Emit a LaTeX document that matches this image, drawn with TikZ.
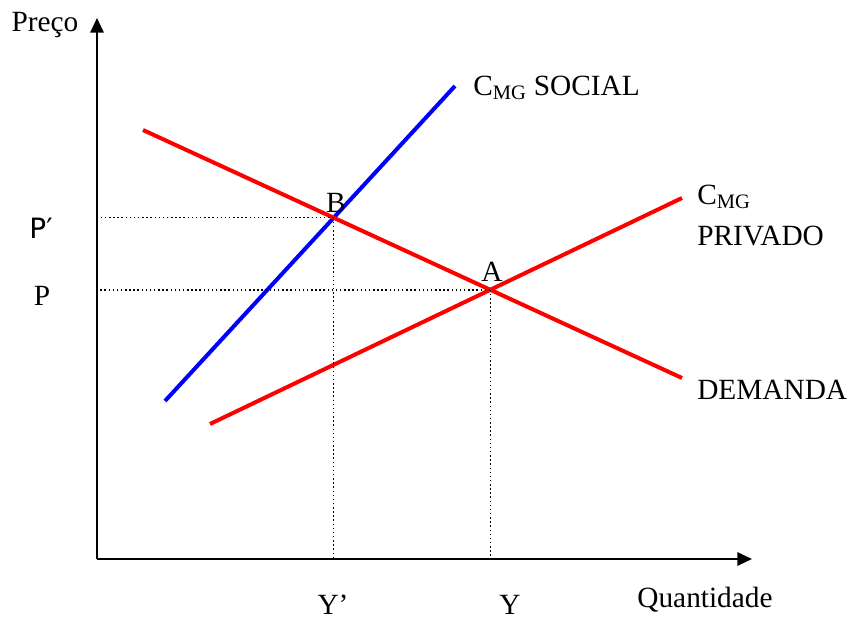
\documentclass[tikz,border=0pt]{standalone}
\usepackage{fontspec}
\setmainfont{Liberation Serif}
\newfontfamily\primefont{DejaVu Sans}
\usetikzlibrary{arrows.meta,intersections}

\begin{document}
\begin{tikzpicture}[x=0.75pt,y=-0.75pt]
        % Estilos
        \tikzset{eixo/.style={line width=1.5pt, -{Triangle[length=11pt,width=10pt]}},
                 curva/.style={line width=3pt},
                 guia/.style={line width=1.1pt, dotted},
                 rotulo/.style={font=\fontsize{22}{26}\selectfont, inner sep=0pt}}
        \useasboundingbox (0,0) rectangle (851,621);

        % --- EIXOS ---
        \coordinate (O) at (97,559);
        \coordinate (ytop) at (97,18);
        \coordinate (xend) at (752,559);
        \draw[eixo] (O) -- (ytop);
        \draw[eixo] (O) -- (xend);
        \node[rotulo] (preco) at (45,25) {Preço};
        \node[rotulo] (quant) at (705,600) {Quantidade};

        % --- CURVAS ---
        \coordinate (s1) at (165,401); \coordinate (s2) at (455,86);
        \coordinate (d1) at (143,130); \coordinate (d2) at (682,378);
        \coordinate (p1) at (210,424); \coordinate (p2) at (682,198);
        \draw[curva, blue, name path=social] (s1) -- (s2);
        \draw[curva, red, name path=demanda] (d1) -- (d2);
        \draw[curva, red, name path=privado] (p1) -- (p2);
        \path[name intersections={of=social and demanda, by=B}];
        \path[name intersections={of=privado and demanda, by=A}];

        % --- LINHAS GUIA ---
        \draw[guia] (B) -- (B -| O);
        \draw[guia] (B) -- (B |- O);
        \draw[guia] (A) -- (A -| O);
        \draw[guia] (A) -- (A |- O);

        % --- ROTULOS ---
        \node[rotulo] (labB) at (336,203) {B};
        \node[rotulo] (labA) at (492,272) {A};
        \node[rotulo, font=\primefont\fontsize{21}{24}\selectfont] (pl) at (41,228) {P′};
        \node[rotulo] (p) at (42,296) {P};
        \node[rotulo] (yl) at (333,605) {Y’};
        \node[rotulo] (y) at (510,605) {Y};
        \node[rotulo, anchor=west] (social) at (473,88) {C\textsubscript{MG} SOCIAL};
        \node[rotulo, anchor=west] (cmg) at (697,197) {C\textsubscript{MG}};
        \node[rotulo, anchor=west] (priv) at (697,236) {PRIVADO};
        \node[rotulo, anchor=west] (dem) at (697,390) {DEMANDA};
    \end{tikzpicture}
\end{document}
